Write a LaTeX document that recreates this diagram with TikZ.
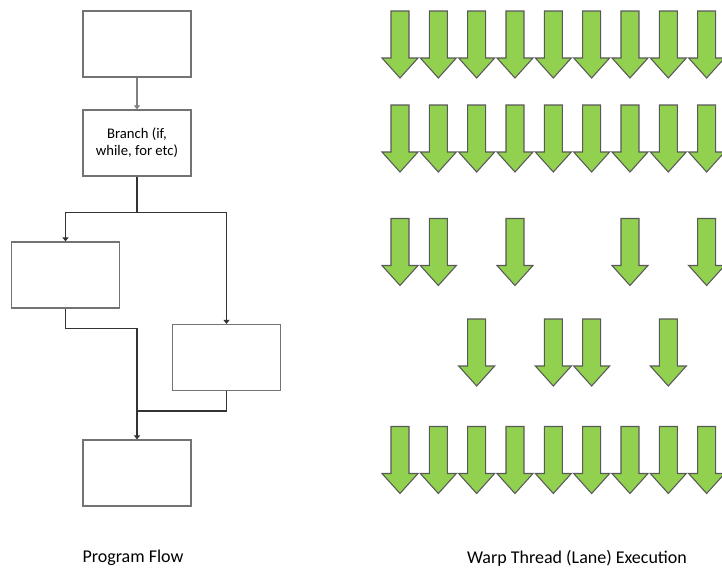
\documentclass[tikz,border=0pt]{standalone}
\usepackage{fontspec}
\setmainfont{Carlito}
\usetikzlibrary{arrows.meta,positioning}
\definecolor{lanegreen}{HTML}{92D050}

\begin{document}
\begin{tikzpicture}[x=0.75pt,y=-0.75pt]
  \tikzset{flow box/.style={draw=black!55,line width=0.9pt,minimum width=81pt,minimum height=49.5pt,inner sep=0pt,align=center,font=\fontsize{11}{12.75}\selectfont},
    flow line/.style={draw=black!80,line width=0.8pt},
    flow arrow/.style={flow line,-{Triangle[width=4.5pt,length=3pt]}},
    lane/.pic={\draw [draw=black!65,fill=lanegreen,line width=0.8pt,line join=miter]
      (-9,-33.5) -- (9,-33.5) -- (9,13.5) -- (18,13.5) -- (0,33.5) -- (-18,13.5) -- (-9,13.5) -- cycle;},
    caption/.style={font=\fontsize{13.5}{16}\selectfont}}
  \useasboundingbox (0,0) rectangle (722,571);
  \clip (0,0) rectangle (722,571);

  % program flow
  \node [flow box] (start) at (137,44) {};
  \node [flow box] (branch) at (137,143) {Branch (if,\\while, for etc)};
  \node [flow box] (taken) at (65.5,275) {};
  \node [flow box] (other) at (226.5,357.5) {};
  \node [flow box] (join) at (137,473) {};

  \draw [flow arrow,draw=black!50] (start) -- (branch);
  \draw [flow line] (branch.south) -- ++(0,36) coordinate (split);
  \draw [flow arrow] (split) -| (taken.north);
  \draw [flow arrow] (split) -| (other.north);
  \draw [flow arrow] (taken.south) -- ++(0,20) -| (join.north);
  \coordinate (merge) at (137,411);
  \draw [flow line] (other.south) |- (merge);

  % lanes, one row per step
  \foreach \row/\y/\cols in {1/44.5/{1,2,3,4,5,6,7,8,9},2/138.5/{1,2,3,4,5,6,7,8,9},3/252/{1,2,4,7,9},4/352.5/{3,5,6,8},5/460/{1,2,3,4,5,6,7,8,9}}
    \foreach \c in \cols
      \pic (lane-\row-\c) at ({400+38.33*(\c-1)},\y) {lane};

  \node [caption] (flowlabel) at (133,558) {Program Flow};
  \node [caption] (lanelabel) at (577,558) {Warp Thread (Lane) Execution};
\end{tikzpicture}
\end{document}
